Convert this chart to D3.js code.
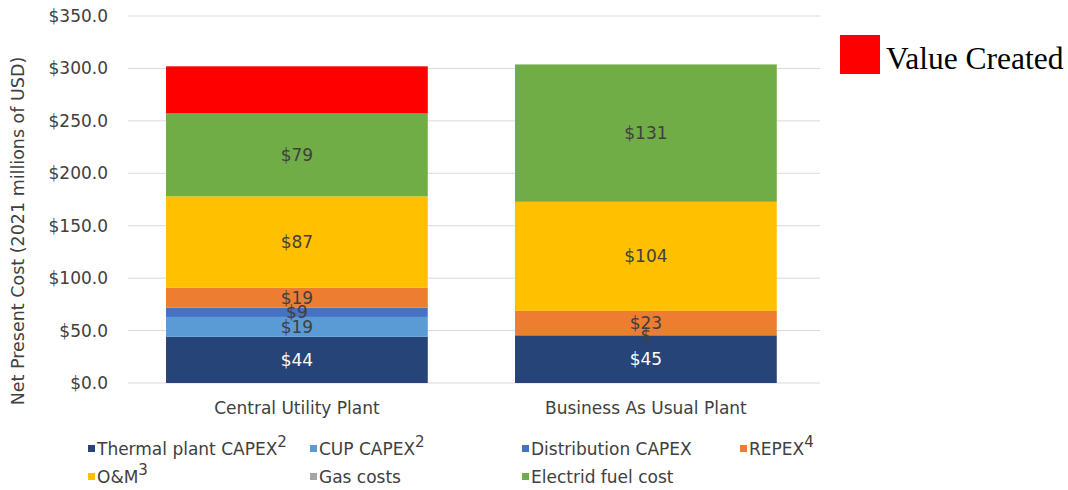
<!DOCTYPE html>
<html><head><meta charset="utf-8">
<script src="https://cdn.jsdelivr.net/npm/d3@7"></script>
<style>body{margin:0;background:#fff}svg{display:block}</style>
</head><body><svg id="c" width="1068" height="490"></svg>
<script>
const categories = ["Central Utility Plant", "Business As Usual Plant"];
const seriesNames = ["Thermal plant CAPEX", "CUP CAPEX", "Distribution CAPEX", "REPEX", "O&M", "Gas costs", "Electrid fuel cost", "Value Created"];
const seriesSup = ["2", "2", "", "4", "3", "", "", ""];
const seriesColors = ["#264478", "#5B9BD5", "#4472C4", "#ED7D31", "#FFC000", "#A5A5A5", "#70AD47", "#FF0000"];
const thermalCapex = [44, 45];
const cupCapex = [19, 0];
const distributionCapex = [9, 0.8];
const repex = [19, 23];
const om = [87, 104];
const gasCosts = [0, 0];
const electricFuel = [79, 131];
const valueCreated = [45, 0];
const segLabels = [["$44", "$45"], ["$19", ""], ["$9", "$"], ["$19", "$23"], ["$87", "$104"], ["", ""], ["$79", "$131"], ["", ""]];
const yTicks = [0, 50, 100, 150, 200, 250, 300, 350];

const seriesValues = [thermalCapex, cupCapex, distributionCapex, repex, om, gasCosts, electricFuel, valueCreated];
const svg = d3.select("#c");
const x = d3.scaleBand().domain(categories).range([122.4, 820.4]).paddingInner(0.25).paddingOuter(0.125);
const y = d3.scaleLinear().domain([0, 350]).range([383, 16]);
const font = "DejaVu Sans, Verdana, sans-serif";

// gridlines
svg.append("g").selectAll("line").data(yTicks).join("line")
  .attr("x1", 128).attr("x2", 820).attr("y1", d => y(d)).attr("y2", d => y(d))
  .attr("stroke", "#d9d9d9").attr("stroke-width", 1);

// y axis
const ya = svg.append("g").attr("transform", "translate(128,0)")
  .call(d3.axisLeft(y).tickValues(yTicks).tickSize(0).tickPadding(20).tickFormat(d => "$" + d3.format(".1f")(d)));
ya.select(".domain").remove();
ya.selectAll("text").attr("font-family", font).attr("font-size", 17).attr("fill", "#404040");

// stack
const rows = categories.map((c, i) => {
  const o = {cat: c};
  seriesNames.forEach((s, j) => o[s] = seriesValues[j][i]);
  return o;
});
const stacked = d3.stack().keys(seriesNames)(rows);
const g = svg.append("g");
stacked.forEach((layer, j) => {
  g.append("g").attr("fill", seriesColors[j]).selectAll("rect").data(layer).join("rect")
    .attr("x", d => x(d.data.cat)).attr("width", x.bandwidth())
    .attr("y", d => y(d[1])).attr("height", d => y(d[0]) - y(d[1]));
});
stacked.forEach((layer, j) => {
  g.append("g").selectAll("text").data(layer).join("text")
    .attr("x", d => x(d.data.cat) + x.bandwidth() / 2)
    .attr("y", d => (y(d[0]) + y(d[1])) / 2 + 6)
    .attr("text-anchor", "middle").attr("font-family", font).attr("font-size", 17)
    .attr("fill", j === 0 ? "#ffffff" : "#404040")
    .text((d, i) => segLabels[j][i]);
});

// x labels
svg.append("g").selectAll("text").data(categories).join("text")
  .attr("x", d => x(d) + x.bandwidth() / 2).attr("y", 414)
  .attr("text-anchor", "middle").attr("font-family", font).attr("font-size", 17).attr("fill", "#404040")
  .text(d => d);

// y title
svg.append("text").attr("transform", "translate(24,231) rotate(-90)")
  .attr("text-anchor", "middle").attr("font-family", font).attr("font-size", 17.5).attr("fill", "#404040")
  .text("Net Present Cost (2021 millions of USD)");

// legend
const legPos = [[88, 455], [310, 455], [522, 455], [740, 455], [88, 483], [310, 483], [522, 483]];
const leg = svg.append("g");
legPos.forEach((p, j) => {
  leg.append("rect").attr("x", p[0]).attr("y", p[1] - 10).attr("width", 7).attr("height", 7).attr("fill", seriesColors[j]);
  const t = leg.append("text").attr("x", p[0] + 9).attr("y", p[1]).attr("font-family", font).attr("font-size", 17).attr("fill", "#404040");
  t.append("tspan").text(seriesNames[j]);
  if (seriesSup[j]) t.append("tspan").attr("dy", -8).attr("font-size", 15).text(seriesSup[j]);
});

// value created legend
svg.append("rect").attr("x", 840).attr("y", 35).attr("width", 40).attr("height", 39).attr("fill", seriesColors[7]);
svg.append("text").attr("x", 886).attr("y", 69).attr("font-family", "Liberation Serif, Times New Roman, serif")
  .attr("font-size", 31.5).attr("fill", "#000").text(seriesNames[7]);
</script></body></html>
